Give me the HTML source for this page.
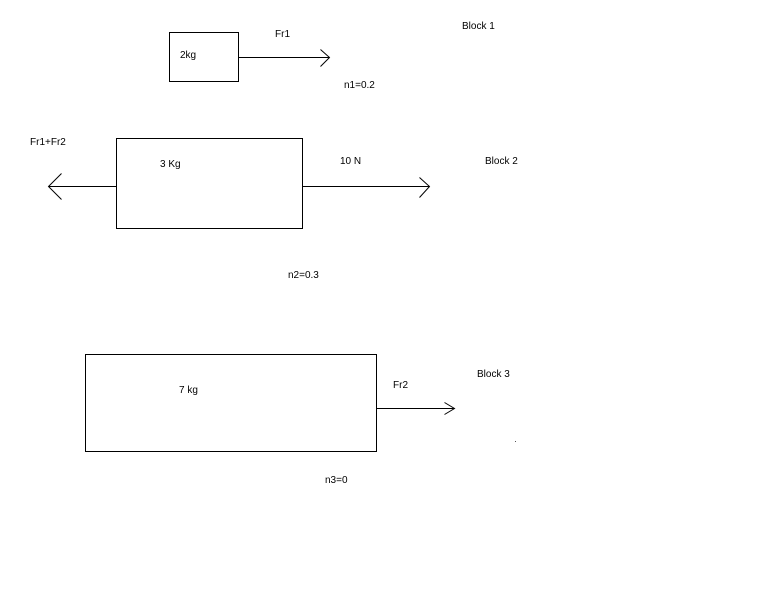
<!DOCTYPE html>
<html><head><meta charset="utf-8"><style>
html,body{margin:0;padding:0;background:#fff;}
svg{display:block;}
text{font-family:"Liberation Sans",Arial,sans-serif;font-size:10px;fill:#000;}
</style></head><body>
<svg width="761" height="600" viewBox="0 0 761 600" xmlns="http://www.w3.org/2000/svg">
<rect x="0" y="0" width="761" height="600" fill="#fff"/>
<g fill="none" stroke="#000" stroke-width="1" shape-rendering="crispEdges">
<rect x="169.5" y="32.5" width="69" height="49"/>
<rect x="116.5" y="138.5" width="186" height="90"/>
<rect x="85.5" y="354.5" width="291" height="97"/>
<line x1="238.5" y1="57.5" x2="329.5" y2="57.5"/>
<line x1="48.5" y1="186.5" x2="116.5" y2="186.5"/>
<line x1="302.5" y1="186.5" x2="429.5" y2="186.5"/>
<line x1="376.5" y1="408.5" x2="454.5" y2="408.5"/>
</g>
<g fill="none" stroke="#000" stroke-width="1">
<polyline points="320.5,49.5 329.5,57.5 320.5,66.5"/>
<polyline points="61.5,173.5 48.5,186.5 61.5,199.5"/>
<polyline points="419.5,177.5 429.5,186.5 419.5,197.5"/>
<polyline points="444.5,402.5 454.5,408.5 444.5,414.5"/>
</g>
<text x="462" y="29">Block 1</text>
<text x="275" y="37">Fr1</text>
<text x="180" y="58">2kg</text>
<text x="344" y="88">n1=0.2</text>
<text x="30" y="145">Fr1+Fr2</text>
<text x="160" y="167">3 Kg</text>
<text x="340" y="164">10 N</text>
<text x="485" y="164">Block 2</text>
<text x="288" y="278">n2=0.3</text>
<text x="179" y="393">7 kg</text>
<text x="393" y="388">Fr2</text>
<text x="477" y="377">Block 3</text>
<text x="325" y="483">n3=0</text>
<rect x="515" y="441" width="1" height="1" fill="#555"/>
</svg>
</body></html>
